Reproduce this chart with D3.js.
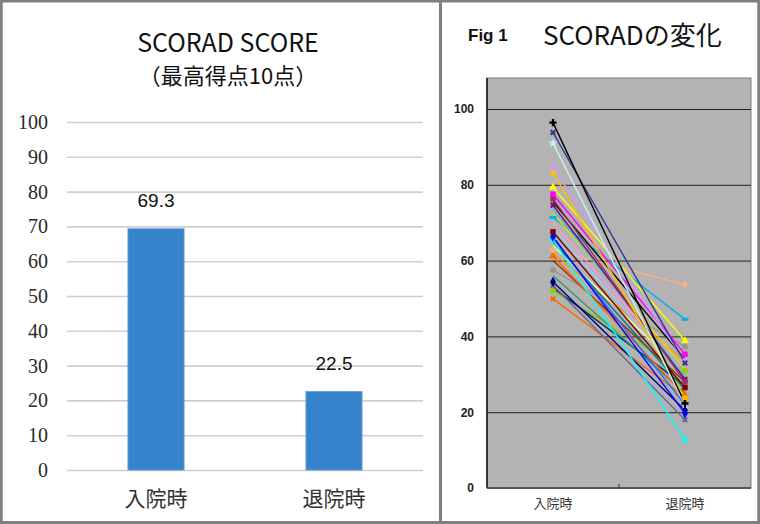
<!DOCTYPE html>
<html><head><meta charset="utf-8">
<script src="https://cdn.jsdelivr.net/npm/d3@7"></script>
<style>html,body{margin:0;padding:0;background:#fff;}svg{display:block;}</style>
</head><body>
<script>
// ---- Left chart data ----
const barCategories = ["入院時", "退院時"];
const barValues = [69.3, 22.5];
const barTicks = [0, 10, 20, 30, 40, 50, 60, 70, 80, 90, 100];

// ---- Right chart data ----
const lineCategories = ["入院時", "退院時"];
const lineTicks = [0, 20, 40, 60, 80, 100];
const admission = [96.4, 93.8, 91.0, 84.4, 83.2, 79.3, 77.5, 76.3, 75.5, 74.6, 73.5, 72.5, 71.4, 70.0, 68.5, 67.6,
                   66.3, 66.0, 65.5, 65.0, 64.0, 63.0, 62.0, 61.2, 60.0, 57.5, 56.0, 54.4, 53.5, 52.8, 52.0, 49.9];
const discharge = [22.3, 33.0, 22.0, 33.5, 23.7, 38.9, 35.3, 28.0, 34.0, 28.7, 29.5, 31.5, 44.5, 30.0, 29.0, 26.5,
                   19.7, 22.0, 12.8, 26.0, 30.0, 53.6, 33.5, 24.5, 28.0, 37.3, 25.0, 20.5, 18.0, 27.0, 30.9, 24.0];

// ---- Styles (not data) ----
const seriesColors = ["#000000", "#333399", "#bff5f5", "#CC99FF", "#FFC000", "#FFFF00", "#FF00FF", "#993366", "#000000", "#800080",
                      "#33CCCC", "#FFCC00", "#00B0F0", "#FF99CC", "#99CCFF", "#800000", "#0000FF", "#3366FF", "#00FFFF", "#008080",
                      "#FFFF99", "#FFB07A", "#FF9900", "#FF6600", "#993300", "#969696", "#339966", "#000080", "#666699", "#003366",
                      "#99CC00", "#FF6600"];
const seriesMarkers = ["plus", "x", "star", "circle", "square", "triangle", "square", "square", "none", "x",
                       "none", "none", "dash", "none", "none", "square", "diamond", "none", "star", "none",
                       "none", "plus", "none", "triangle", "none", "circle", "none", "diamond", "x", "none",
                       "circle", "x"];

const W = 760, H = 524;
const svg = d3.select("body").append("svg").attr("width", W).attr("height", H);
svg.append("rect").attr("width", W).attr("height", H).attr("fill", "#fff");

// ================= LEFT PANEL =================
const L = svg.append("g");
L.append("text").attr("x", 228).attr("y", 52).attr("text-anchor", "middle")
  .attr("font-family", "'Noto Sans CJK JP','Noto Sans',sans-serif").attr("font-size", 25).attr("fill", "#111")
  .text("SCORAD SCORE");
L.append("text").attr("x", 228).attr("y", 84).attr("text-anchor", "middle")
  .attr("font-family", "'Noto Sans CJK JP',sans-serif").attr("font-size", 22).attr("fill", "#111")
  .text("（最高得点10点）");

const xb = d3.scaleBand().domain(barCategories).range([67, 423]).paddingInner(0).paddingOuter(0);
const yb = d3.scaleLinear().domain([0, 100]).range([470, 122]);

const gridL = L.append("g").attr("transform", "translate(67,0)")
  .call(d3.axisLeft(yb).tickValues(barTicks).tickSize(-356).tickFormat(""));
gridL.select(".domain").remove();
gridL.selectAll("line").attr("stroke", "#cfcfcf").attr("stroke-width", 1.6);

const axL = L.append("g").attr("transform", "translate(48,0)")
  .attr("font-family", "'Liberation Serif','DejaVu Serif',serif")
  .call(d3.axisLeft(yb).tickValues(barTicks).tickSize(0).tickPadding(0));
axL.attr("font-family", "'Liberation Serif','DejaVu Serif',serif");
axL.select(".domain").remove();
axL.selectAll("text").style("font-family", "'Liberation Serif','DejaVu Serif',serif")
  .attr("font-size", 20).attr("fill", "#2a2a2a");

const bw = 56;
L.selectAll("rect.bar").data(barValues).enter().append("rect").attr("class", "bar")
  .attr("x", (d, i) => xb(barCategories[i]) + xb.bandwidth() / 2 - bw / 2)
  .attr("width", bw)
  .attr("y", d => yb(d)).attr("height", d => yb(0) - yb(d))
  .attr("fill", "#3682cb").attr("stroke", "#5d9ad6").attr("stroke-width", 1);

L.selectAll("text.val").data(barValues).enter().append("text").attr("class", "val")
  .attr("x", (d, i) => xb(barCategories[i]) + xb.bandwidth() / 2)
  .attr("y", d => yb(d) - 22).attr("text-anchor", "middle")
  .attr("font-family", "'Liberation Sans',Arial,sans-serif").attr("font-size", 19).attr("fill", "#111")
  .text(d => d.toFixed(1));

const axLB = L.append("g").attr("transform", "translate(0,470)")
  .call(d3.axisBottom(xb).tickSize(0).tickPadding(0));
axLB.select(".domain").remove();
axLB.selectAll("text").attr("dy", 0).attr("y", 36)
  .style("font-family", "'Noto Sans CJK JP',sans-serif").attr("font-size", 21).attr("fill", "#333");

// ================= RIGHT PANEL =================
const R = svg.append("g");
R.append("text").attr("x", 468).attr("y", 41)
  .attr("font-family", "'Liberation Sans',Arial,sans-serif").attr("font-weight", "bold").attr("font-size", 17).attr("fill", "#111")
  .text("Fig 1");
R.append("text").attr("x", 543).attr("y", 45)
  .attr("font-family", "'Noto Sans CJK JP',sans-serif").attr("font-size", 26).attr("fill", "#111")
  .text("SCORADの変化");

const px0 = 487, px1 = 751, py0 = 78, py1 = 488;
const xr = d3.scalePoint().domain(lineCategories).range([px0, px1]).padding(0.5);
const yr = d3.scaleLinear().domain([0, 100]).range([488, 109]);

R.append("rect").attr("x", px0).attr("y", py0).attr("width", px1 - px0).attr("height", py1 - py0)
  .attr("fill", "#b3b3b3").attr("stroke", "#7a7a7a").attr("stroke-width", 1);

const gridR = R.append("g").attr("transform", `translate(${px0},0)`)
  .call(d3.axisLeft(yr).tickValues(lineTicks.filter(t => t > 0)).tickSize(-(px1 - px0)).tickFormat(""));
gridR.select(".domain").remove();
gridR.selectAll("line").attr("stroke", "#222").attr("stroke-width", 1);

const axR = R.append("g").attr("transform", `translate(${px0},0)`)
  .call(d3.axisLeft(yr).tickValues(lineTicks).tickSize(0).tickPadding(13));
axR.select(".domain").attr("stroke", "#111").attr("stroke-width", 1.5).attr("d", `M0,${py1}V${py0}`);
axR.selectAll("text").style("font-family", "'Liberation Sans',Arial,sans-serif").attr("font-size", 12)
  .attr("font-weight", "bold").attr("fill", "#222");

// bottom axis
const xrBand = d3.scaleBand().domain(lineCategories).range([px0, px1]);
R.append("line").attr("x1", px0).attr("x2", px1).attr("y1", py1).attr("y2", py1)
  .attr("stroke", "#555").attr("stroke-width", 2);
R.selectAll("line.tk").data(lineCategories.slice(1)).enter().append("line").attr("class", "tk")
  .attr("x1", d => xrBand(d)).attr("x2", d => xrBand(d)).attr("y1", py1).attr("y2", py1 - 4)
  .attr("stroke", "#333").attr("stroke-width", 1);
R.selectAll("text.xc").data(lineCategories).enter().append("text").attr("class", "xc")
  .attr("x", d => xr(d)).attr("y", 508).attr("text-anchor", "middle")
  .attr("font-family", "'Noto Sans CJK JP',sans-serif").attr("font-size", 13).attr("fill", "#333")
  .text(d => d);

// series
const line = d3.line().x(d => xr(d.c)).y(d => yr(d.v));
const series = admission.map((a, i) => ({ i, pts: [{ c: lineCategories[0], v: a }, { c: lineCategories[1], v: discharge[i] }] }));
const order = series.slice().reverse();
R.selectAll("path.ser").data(order).enter().append("path").attr("class", "ser")
  .attr("d", d => line(d.pts)).attr("fill", "none")
  .attr("stroke", d => seriesColors[d.i]).attr("stroke-width", 1.4);

function markerPath(type) {
  switch (type) {
    case "diamond": return d3.symbol(d3.symbolDiamond, 30)();
    case "square": return d3.symbol(d3.symbolSquare, 30)();
    case "triangle": return d3.symbol(d3.symbolTriangle, 28)();
    case "circle": return d3.symbol(d3.symbolCircle, 28)();
    case "star": return d3.symbol(d3.symbolStar, 28)();
    case "plus": return d3.symbol(d3.symbolCross, 28)();
    case "x": return d3.symbol(d3.symbolCross, 22)();
    case "dash": return "M-3.5,-1.5H3.5V1.5H-3.5Z";
    default: return null;
  }
}
order.forEach(s => {
  const t = seriesMarkers[s.i];
  if (t === "none") return;
  s.pts.forEach(p => {
    R.append("path").attr("d", markerPath(t))
      .attr("transform", `translate(${xr(p.c)},${yr(p.v)})` + (t === "x" ? " rotate(45)" : ""))
      .attr("fill", seriesColors[s.i]).attr("stroke", "none");
  });
});

// ================= FRAME =================
svg.append("rect").attr("x", 1.25).attr("y", 1).attr("width", W - 2.5).attr("height", H - 2.5)
  .attr("fill", "none").attr("stroke", "#808080").attr("stroke-width", 3);
svg.append("line").attr("x1", 440.5).attr("x2", 440.5).attr("y1", 0).attr("y2", H)
  .attr("stroke", "#808080").attr("stroke-width", 3);
</script>
</body></html>
